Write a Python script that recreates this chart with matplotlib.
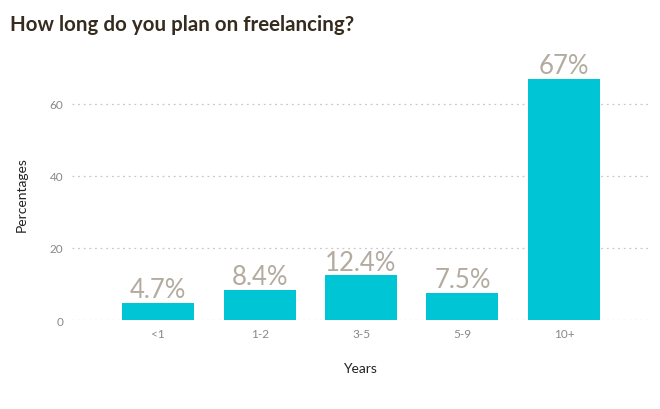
import matplotlib.pyplot as plt

# data
categories = ['<1', '1-2', '3-5', '5-9', '10+']
percentages = [4.7, 8.4, 12.4, 7.5, 67]
labels = ['4.7%', '8.4%', '12.4%', '7.5%', '67%']

plt.rcParams['font.family'] = ['Lato', 'DejaVu Sans']

fig = plt.figure(figsize=(6.6, 4.1), dpi=100)
ax = fig.add_axes([0.109, 0.217, 0.873, 0.615])

x = range(len(categories))
ax.bar(x, percentages, width=0.71, color='#00C5D4', zorder=3)

for xi, v, lab in zip(x, percentages, labels):
    ax.text(xi, v + 0.2, lab, ha='center', va='bottom', fontsize=18.5,
            color='#B3ABA0', zorder=4)

ax.set_xlim(-0.85, 4.83)
ax.set_ylim(0, 70)
ax.set_yticks([0, 20, 40, 60])
ax.set_xticks(list(x))
ax.set_xticklabels(categories)
ax.tick_params(axis='both', length=0, labelsize=8.5, labelcolor='#888888')
ax.tick_params(axis='x', pad=6)
ax.tick_params(axis='y', pad=6)

ax.grid(axis='y', linestyle=(0, (1.5, 3)), color='#c8c8c8', linewidth=0.9, zorder=0)
for s in ax.spines.values():
    s.set_visible(False)

ax.set_ylabel('Percentages', fontsize=10, color='#222222', labelpad=16)
ax.set_xlabel('Years', fontsize=10, color='#222222', labelpad=16)

fig.text(0.015, 0.94, 'How long do you plan on freelancing?', fontsize=14.8,
         fontweight='bold', color='#352C1F', ha='left', va='center')

fig.savefig('out.png', dpi=100)
